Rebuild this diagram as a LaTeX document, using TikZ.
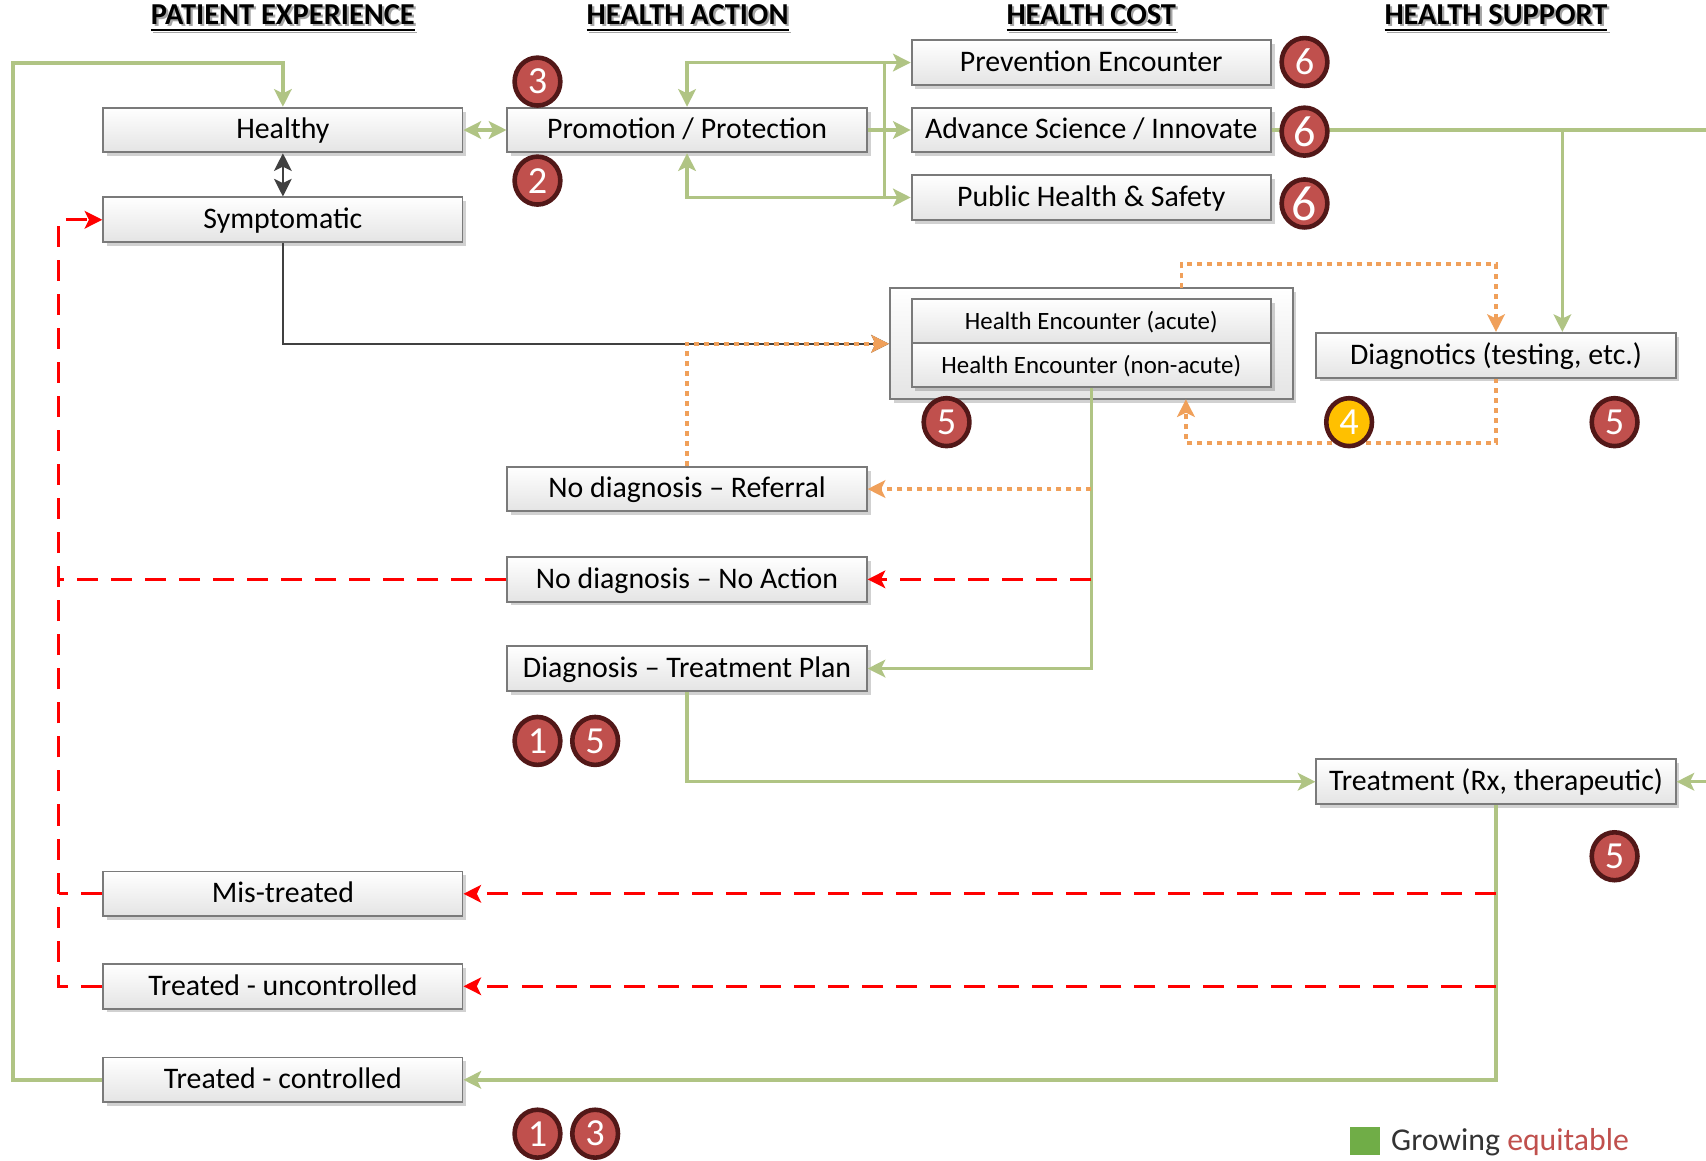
\documentclass[tikz,border=0pt]{standalone}
\usepackage{fontspec}
\setmainfont{Carlito}
\usetikzlibrary{arrows.meta,shapes.geometric,shadows}

\definecolor{lgreen}{HTML}{B0C484}
\definecolor{lorange}{HTML}{F0A05A}
\definecolor{dgray}{HTML}{404040}
\definecolor{boxline}{HTML}{7A7A7A}
\definecolor{boxbot}{HTML}{E4E4E4}
\definecolor{badgered}{HTML}{C0504D}
\definecolor{badgeline}{HTML}{521818}
\definecolor{badgeyellow}{HTML}{FFC000}
\definecolor{legendgreen}{HTML}{70AD47}

\tikzset{
  box/.style={draw=boxline, line width=0.5pt, top color=white, bottom color=boxbot,
    minimum width=3.3cm, minimum height=0.41cm, inner sep=0pt,
    text height=0.66em, text depth=0.2em,
    font=\fontsize{7.8}{9}\selectfont,
    drop shadow={shadow xshift=0.035cm, shadow yshift=-0.035cm, opacity=0.18, fill=black}},
  smallbox/.style={box, minimum height=0.405cm, font=\fontsize{6.5}{8}\selectfont},
  groupbox/.style={box, minimum width=3.7cm, minimum height=1.02cm},
  badge/.style={ellipse, draw=badgeline, line width=1.2pt, fill=badgered,
    minimum width=0.42cm, minimum height=0.44cm, inner sep=0pt, text=white,
    font=\fontsize{10}{10}\selectfont},
  hdr/.style={font=\fontsize{7.95}{10}\bfseries\selectfont, inner sep=0pt},
  hdrshadow/.style={hdr, text=black!35},
  gline/.style={draw=lgreen, line width=0.9pt},
  dline/.style={draw=dgray, line width=0.6pt},
  rline/.style={draw=red, line width=0.75pt, dash pattern=on 5.5pt off 3.4pt},
  oline/.style={draw=lorange, line width=1pt, dash pattern=on 1.3pt off 1.3pt},
  >={Stealth[length=4.6pt,width=4.6pt,inset=1.1pt]}
}

\begin{document}
\begin{tikzpicture}[x=0.01cm,y=-0.01cm]
\useasboundingbox[fill=white] (0,0) rectangle (1568,1067);

% column headers
\node[hdrshadow] (h1s) at (262,19) {\underline{PATIENT EXPERIENCE}};
\node[hdr] (h1) at (260,17) {\underline{PATIENT EXPERIENCE}};
\node[hdrshadow] (h2s) at (634,19) {\underline{HEALTH ACTION}};
\node[hdr] (h2) at (632,17) {\underline{HEALTH ACTION}};
\node[hdrshadow] (h3s) at (1005,19) {\underline{HEALTH COST}};
\node[hdr] (h3) at (1003,17) {\underline{HEALTH COST}};
\node[hdrshadow] (h4s) at (1377,19) {\underline{HEALTH SUPPORT}};
\node[hdr] (h4) at (1375,17) {\underline{HEALTH SUPPORT}};

% boxes
\node[box] (healthy) at (260,119.5) {Healthy};
\node[box] (sympt) at (260,202) {Symptomatic};
\node[box] (promo) at (631.5,119.5) {Promotion / Protection};
\node[box] (prev) at (1003,57.5) {Prevention Encounter};
\node[box] (adv) at (1003,119.5) {Advance Science / Innovate};
\node[box] (pub) at (1003,181.5) {Public Health \& Safety};
\node[groupbox] (enc) at (1003,316) {};
\node[smallbox] (acute) at (1003,295) {Health Encounter (acute)};
\node[smallbox] (nonacute) at (1003,335.5) {Health Encounter (non-acute)};
\node[box] (diag) at (1375,326.5) {Diagnotics (testing, etc.)};
\node[box] (refer) at (631.5,449.5) {No diagnosis -- Referral};
\node[box] (noact) at (631.5,532.5) {No diagnosis -- No Action};
\node[box] (plan) at (631.5,614.5) {Diagnosis -- Treatment Plan};
\node[box] (treat) at (1375,718.5) {Treatment (Rx, therapeutic)};
\node[box] (mis) at (260,821.5) {Mis-treated};
\node[box] (unc) at (260,906.5) {Treated - uncontrolled};
\node[box] (ctl) at (260,992.5) {Treated - controlled};

% helper points
\coordinate (loopL) at (12,58);
\coordinate (busT) at (813,57.5);
\coordinate (busB) at (813,181.5);
\coordinate (edgeA) at (1568,119.5);
\coordinate (brA) at (1436,119.5);
\coordinate (edgeT) at (1568,718.5);
\coordinate (encT) at (1086,265);
\coordinate (encTT) at (1086,243);
\coordinate (encB) at (1090,367);
\coordinate (diagB) at (1375,407);
\coordinate (redL) at (54,532.5);
\coordinate (redM) at (54,821.5);
\coordinate (redS) at (54,202);

% health action links
\draw[gline,->] (ctl.west) -| (loopL) -| (healthy.north);
\draw[gline,<->] (healthy.east) -- (promo.west);
\draw[dline,<->] (healthy.south) -- (sympt.north);
\draw[gline,<->] (promo.north) |- (prev.west);
\draw[gline,<->] (promo.south) |- (pub.west);
\draw[gline,->] (promo.east) -- (adv.west);
\draw[gline] (busT) -- (busB);

% support links
\draw[gline] (adv.east) -- (edgeA);
\draw[gline,->] (brA) -- (brA |- diag.north);
\draw[gline,->] (edgeT) -- (treat.east);

% encounter
\draw[dline,->] (sympt.south) |- (enc.west);
\draw[oline,->] (refer.north) |- (enc.west);
\draw[oline,->] (encT) -- (encTT) -| (diag.north);
\draw[oline,->] (diag.south) -- (diagB) -| (encB);

% outcomes of the encounter
\draw[gline,->] (nonacute.south) |- (plan.east);
\draw[oline,->] (nonacute.south |- refer.east) -- (refer.east);
\draw[rline,->] (nonacute.south |- noact.east) -- (noact.east);

% back to symptomatic
\draw[rline] (noact.west) -- (redL);
\draw[rline,->] (unc.west) -| (redS) -- (sympt.west);
\draw[rline] (mis.west) -- (redM);

% treatment
\draw[gline,->] (plan.south) |- (treat.west);
\draw[gline,->] (treat.south) |- (ctl.east);
\draw[rline,->] (treat.south |- mis.east) -- (mis.east);
\draw[rline,->] (treat.south |- unc.east) -- (unc.east);

% numbered badges
\node[badge] (b3a) at (494,75) {3};
\node[badge] (b2) at (494,166) {2};
\node[badge] (b6a) at (1199,57) {6};
\node[badge, font=\fontsize{11.5}{11.5}\selectfont] (b6b) at (1199,121) {6};
\node[badge, font=\fontsize{13}{13}\selectfont] (b6c) at (1199,187) {6};
\node[badge] (b5a) at (870,388) {5};
\node[badge, fill=badgeyellow] (b4) at (1240,388) {4};
\node[badge] (b5b) at (1484,388) {5};
\node[badge] (b1a) at (494,681) {1};
\node[badge] (b5c) at (547,681) {5};
\node[badge] (b5d) at (1484,787) {5};
\node[badge] (b1b) at (494,1042) {1};
\node[badge] (b3b) at (547,1042) {3};

% legend
\fill[legendgreen] (1241,1036) rectangle (1268,1062);
\node[anchor=west, inner sep=0pt, font=\fontsize{8.3}{10}\selectfont, text=black!80] (leg) at (1278,1050)
  {Growing \textcolor{badgered}{equitable}};
\end{tikzpicture}
\end{document}
